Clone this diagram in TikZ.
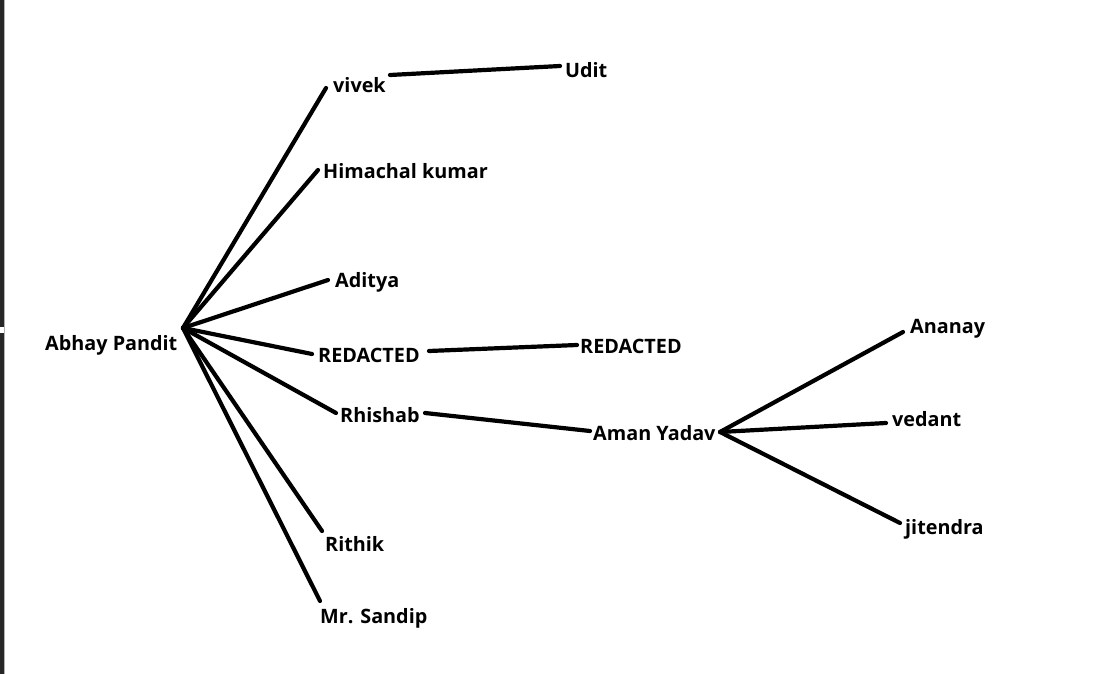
\documentclass[tikz,border=0pt]{standalone}
\usepackage{fontspec}
\setmainfont{Open Sans}
\begin{document}
\begin{tikzpicture}[x=1pt,y=-1pt,
  lbl/.style={anchor=west,inner sep=0pt,font=\fontsize{19.8}{23}\selectfont\bfseries},
  edge/.style={line width=4.2pt,line cap=round}]
\useasboundingbox (0,0) rectangle (1101,674);
\fill[white] (0,0) rectangle (1101,674);
\fill[black!85] (0,0) rectangle (4,674);
\fill[black!30] (4,0) rectangle (5,674);
\fill[white] (0,327) rectangle (4,333);
% labels
\node[lbl] (abhay) at (45,345) {Abhay Pandit};
\node[lbl] (vivek) at (333,85) {vivek};
\node[lbl] (udit) at (565,70) {Udit};
\node[lbl] (himachal) at (323,171) {Himachal kumar};
\node[lbl] (aditya) at (335,282) {Aditya};
\node[lbl] (red1) at (318,355) {REDACTED};
\node[lbl] (red2) at (580,346) {REDACTED};
\node[lbl] (rhishab) at (340,415) {Rhishab};
\node[lbl] (aman) at (593,433) {Aman Yadav};
\node[lbl] (rithik) at (325,544) {Rithik};
\node[lbl] (sandip) at (320,618) {Mr. Sandip};
\node[lbl] (ananay) at (910,329) {Ananay};
\node[lbl] (vedant) at (892,419) {vedant};
\node[lbl] (jitendra) at (905,529) {jitendra};
% line ends
\coordinate (root) at (183,328);
\coordinate (pVivek) at (326,88);
\coordinate (pHim) at (318,170);
\coordinate (pAdi) at (328,280);
\coordinate (pRed) at (312,354);
\coordinate (pRhi) at (336,413);
\coordinate (pRit) at (322,531);
\coordinate (pSan) at (320,601);
\coordinate (qVivek) at (390,75);
\coordinate (qUdit) at (560,66);
\coordinate (qRed1) at (429,351);
\coordinate (qRed2) at (577,345);
\coordinate (qRhi) at (425,413);
\coordinate (qAman) at (590,431);
\coordinate (hub) at (720,432);
\coordinate (pAna) at (903,332);
\coordinate (pVed) at (886,423);
\coordinate (pJit) at (900,523);
% connectors
\foreach \t in {pVivek,pHim,pAdi,pRed,pRhi,pRit,pSan}
  \draw[edge] (root) -- (\t);
\draw[edge] (qVivek) -- (qUdit);
\draw[edge] (qRed1) -- (qRed2);
\draw[edge] (qRhi) -- (qAman);
\foreach \t in {pAna,pVed,pJit}
  \draw[edge] (hub) -- (\t);
\end{tikzpicture}
\end{document}
